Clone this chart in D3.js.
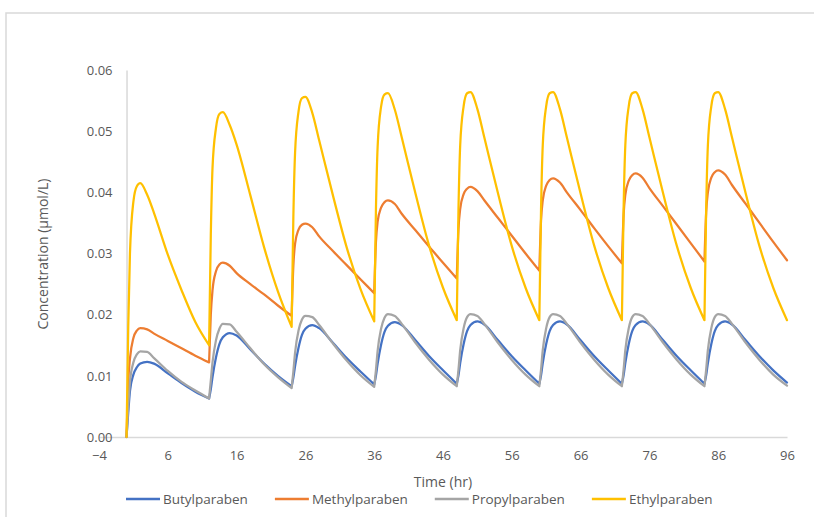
<!DOCTYPE html>
<html>
<head>
<meta charset="utf-8">
<script src="https://cdn.jsdelivr.net/npm/d3@7"></script>
<style>
  body { margin: 0; background: #fff; }
  svg { display: block; font-family: 'Open Sans', sans-serif; }
</style>
</head>
<body>
<svg id="chart" width="814" height="517"></svg>
<script>
// hours after first dose (dosing every 12 h)
var hours = [
  0, 0.25, 0.5, 1, 1.5, 2, 3, 4, 6, 8, 10,
  12, 12.25, 12.5, 13, 13.5, 14, 15, 16, 18, 20, 22,
  24, 24.25, 24.5, 25, 25.5, 26, 27, 28, 30, 32, 34,
  36, 36.25, 36.5, 37, 37.5, 38, 39, 40, 42, 44, 46,
  48, 48.25, 48.5, 49, 49.5, 50, 51, 52, 54, 56, 58,
  60, 60.25, 60.5, 61, 61.5, 62, 63, 64, 66, 68, 70,
  72, 72.25, 72.5, 73, 73.5, 74, 75, 76, 78, 80, 82,
  84, 84.25, 84.5, 85, 85.5, 86, 87, 88, 90, 92, 94,
  96
]

var butyl = [
  0, 0.0040, 0.0075, 0.0102, 0.0114, 0.0120, 0.0123, 0.0120, 0.0104, 0.0088, 0.0074,
  0.0063, 0.0078, 0.0098, 0.0130, 0.0152, 0.0163, 0.0170, 0.0166, 0.0143, 0.0120, 0.0100,
  0.0083, 0.0097, 0.0116, 0.0146, 0.0167, 0.0177, 0.0183, 0.0178, 0.0154, 0.0129, 0.0107,
  0.0086, 0.0100, 0.0120, 0.0151, 0.0172, 0.0182, 0.0188, 0.0183, 0.0158, 0.0132, 0.0109,
  0.0087, 0.0101, 0.0121, 0.0152, 0.0173, 0.0183, 0.0189, 0.0184, 0.0158, 0.0132, 0.0109,
  0.0087, 0.0101, 0.0121, 0.0152, 0.0173, 0.0183, 0.0189, 0.0184, 0.0158, 0.0132, 0.0109,
  0.0087, 0.0101, 0.0121, 0.0152, 0.0173, 0.0183, 0.0189, 0.0184, 0.0158, 0.0132, 0.0109,
  0.0087, 0.0101, 0.0121, 0.0152, 0.0173, 0.0183, 0.0189, 0.0184, 0.0158, 0.0132, 0.0109,
  0.0089
]

var methyl = [
  0, 0.0090, 0.0128, 0.0162, 0.0174, 0.0178, 0.0176, 0.0169, 0.0157, 0.0145, 0.0133,
  0.0122, 0.0200, 0.0240, 0.0271, 0.0282, 0.0285, 0.0280, 0.0268, 0.0250, 0.0233, 0.0215,
  0.0198, 0.0280, 0.0316, 0.0339, 0.0347, 0.0349, 0.0343, 0.0328, 0.0304, 0.0281, 0.0258,
  0.0235, 0.0318, 0.0352, 0.0375, 0.0384, 0.0387, 0.0381, 0.0365, 0.0338, 0.0311, 0.0285,
  0.0259, 0.0340, 0.0373, 0.0397, 0.0406, 0.0409, 0.0402, 0.0387, 0.0358, 0.0329, 0.0300,
  0.0272, 0.0354, 0.0387, 0.0411, 0.0420, 0.0423, 0.0416, 0.0400, 0.0371, 0.0341, 0.0312,
  0.0284, 0.0363, 0.0396, 0.0419, 0.0428, 0.0431, 0.0424, 0.0407, 0.0377, 0.0347, 0.0317,
  0.0287, 0.0367, 0.0400, 0.0424, 0.0433, 0.0436, 0.0429, 0.0412, 0.0381, 0.0350, 0.0319,
  0.0289
]

var propyl = [
  0, 0.0050, 0.0090, 0.0122, 0.0135, 0.0140, 0.0139, 0.0129, 0.0108, 0.0090, 0.0076,
  0.0063, 0.0092, 0.0122, 0.0158, 0.0177, 0.0185, 0.0184, 0.0172, 0.0145, 0.0119, 0.0098,
  0.0080, 0.0107, 0.0138, 0.0174, 0.0192, 0.0198, 0.0196, 0.0183, 0.0153, 0.0125, 0.0101,
  0.0082, 0.0109, 0.0141, 0.0177, 0.0195, 0.0201, 0.0198, 0.0185, 0.0154, 0.0126, 0.0102,
  0.0083, 0.0110, 0.0142, 0.0178, 0.0196, 0.0201, 0.0198, 0.0185, 0.0154, 0.0126, 0.0102,
  0.0083, 0.0110, 0.0142, 0.0178, 0.0196, 0.0201, 0.0198, 0.0185, 0.0154, 0.0126, 0.0102,
  0.0083, 0.0110, 0.0142, 0.0178, 0.0196, 0.0201, 0.0198, 0.0185, 0.0154, 0.0126, 0.0102,
  0.0083, 0.0110, 0.0142, 0.0178, 0.0196, 0.0201, 0.0198, 0.0185, 0.0154, 0.0126, 0.0102,
  0.0084
]

var ethyl = [
  0, 0.0180, 0.0300, 0.0385, 0.0410, 0.0415, 0.0396, 0.0366, 0.0298, 0.0240, 0.0188,
  0.0150, 0.0330, 0.0440, 0.0505, 0.0528, 0.0531, 0.0510, 0.0478, 0.0395, 0.0310, 0.0238,
  0.0180, 0.0360, 0.0465, 0.0532, 0.0554, 0.0556, 0.0530, 0.0485, 0.0395, 0.0310, 0.0242,
  0.0189, 0.0370, 0.0475, 0.0540, 0.0560, 0.0562, 0.0535, 0.0490, 0.0398, 0.0312, 0.0244,
  0.0191, 0.0372, 0.0477, 0.0541, 0.0562, 0.0564, 0.0536, 0.0490, 0.0398, 0.0312, 0.0244,
  0.0191, 0.0372, 0.0477, 0.0541, 0.0562, 0.0564, 0.0536, 0.0490, 0.0398, 0.0312, 0.0244,
  0.0191, 0.0372, 0.0477, 0.0541, 0.0562, 0.0564, 0.0536, 0.0490, 0.0398, 0.0312, 0.0244,
  0.0191, 0.0372, 0.0477, 0.0541, 0.0562, 0.0564, 0.0536, 0.0490, 0.0398, 0.0312, 0.0244,
  0.0191
]

var doseTimes = [0, 12, 24, 36, 48, 60, 72, 84, 96]
var seriesNames = ['Butylparaben', 'Methylparaben', 'Propylparaben', 'Ethylparaben']
var seriesValues = [butyl, methyl, propyl, ethyl]
var seriesColors = ['#4472C4', '#ED7D31', '#A5A5A5', '#FFC000']
var xTicks = [-4, 6, 16, 26, 36, 46, 56, 66, 76, 86, 96]
var yTicks = [0, 0.01, 0.02, 0.03, 0.04, 0.05, 0.06]

var svg = d3.select('#chart')
var textColor = '#595959'
var axisColor = '#d9d9d9'

// chart area border (runs off the right and bottom edges)
svg.append('rect')
  .attr('x', 6)
  .attr('y', 13)
  .attr('width', 830)
  .attr('height', 530)
  .style('fill', '#fff')
  .style('stroke', axisColor)
  .style('stroke-width', 1.5)

var x = d3.scaleLinear().domain([-4, 96]).range([99, 787])
var y = d3.scaleLinear().domain([0, 0.06]).range([437, 70])

// horizontal axis sits on y = 0
var xAxis = svg.append('g')
  .attr('transform', 'translate(0,' + y(0) + ')')
  .call(d3.axisBottom(x).tickValues(xTicks).tickSize(0).tickSizeOuter(0).tickPadding(14))
xAxis.select('.domain').style('stroke', axisColor).style('stroke-width', 1.5)
xAxis.selectAll('text')
  .style('font-family', "'Open Sans', sans-serif")
  .style('font-size', '13px')
  .style('fill', textColor)

// vertical axis crosses at x = 0
var yAxis = svg.append('g')
  .attr('transform', 'translate(' + x(0) + ',0)')
  .call(d3.axisLeft(y).tickValues(yTicks).tickFormat(d3.format('.2f')).tickSize(0).tickSizeOuter(0).tickPadding(14))
yAxis.select('.domain').style('stroke', axisColor).style('stroke-width', 1.5)
yAxis.selectAll('text')
  .style('font-family', "'Open Sans', sans-serif")
  .style('font-size', '13px')
  .style('fill', textColor)

// lines, one piece per dosing interval so troughs stay sharp
var line = d3.line()
  .x(function (d) { return x(d.t) })
  .y(function (d) { return y(d.c) })
  .curve(d3.curveMonotoneX)

seriesValues.forEach(function (vals, si) {
  var pts = hours.map(function (t, i) { return { t: t, c: vals[i] } })
  var d = doseTimes.slice(0, -1).map(function (start, k) {
    var end = doseTimes[k + 1]
    return line(pts.filter(function (p) { return p.t >= start && p.t <= end }))
  }).join('')
  svg.append('path')
    .attr('d', d)
    .style('fill', 'none')
    .style('stroke', seriesColors[si])
    .style('stroke-width', 2.25)
    .style('stroke-linejoin', 'round')
    .style('stroke-linecap', 'round')
})

// axis titles
svg.append('text')
  .attr('x', 443)
  .attr('y', 482)
  .attr('dy', '0.35em')
  .attr('text-anchor', 'middle')
  .style('font-size', '14px')
  .style('fill', textColor)
  .text('Time (hr)')

svg.append('text')
  .attr('transform', 'translate(43,254) rotate(-90)')
  .attr('dy', '0.35em')
  .attr('text-anchor', 'middle')
  .style('font-size', '14px')
  .style('fill', textColor)
  .text('Concentration (µmol/L)')

// legend
var legend = svg.append('g').attr('transform', 'translate(0,499)')
var lx = 126
seriesNames.forEach(function (name, i) {
  var item = legend.append('g').attr('transform', 'translate(' + lx + ',0)')
  item.append('line')
    .attr('x1', 0).attr('x2', 34)
    .attr('y1', 0).attr('y2', 0)
    .style('stroke', seriesColors[i])
    .style('stroke-width', 2.5)
  var label = item.append('text')
    .attr('x', 37)
    .attr('dy', '0.35em')
    .style('font-size', '13.5px')
    .style('fill', textColor)
    .text(name)
  lx += 37 + label.node().getComputedTextLength() + 27
})
</script>
</body>
</html>
